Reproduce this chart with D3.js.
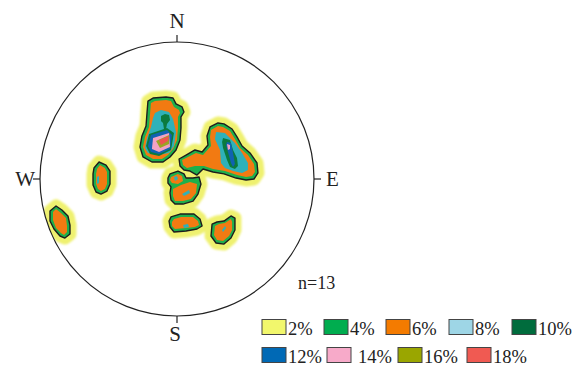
<!DOCTYPE html>
<html><head><meta charset="utf-8">
<script src="https://cdn.jsdelivr.net/npm/d3@7"></script>
<style>body{margin:0;background:#fff} svg{display:block}</style>
</head><body>
<svg id="chart" width="576" height="365"></svg>
<script>
// Pole density contours on an equal-area net.
// Ring vertices are net coordinates in % of the primitive radius (x = east, y = north).

const ring4 = [
  [[-21.2,56.9],[-17.5,59.1],[-8.0,59.9],[-2.9,59.1],[-0.7,54.8],[3.7,52.6],[5.1,48.9],[2.9,45.3],[2.9,37.2],[2.2,28.5],[-0.7,21.2],[-5.1,16.1],[-10.2,12.4],[-18.3,12.4],[-24.8,16.1],[-27.0,23.4],[-25.6,31.4],[-22.6,38.7],[-21.9,48.2]],
  [[24.1,38.0],[29.9,40.9],[34.3,40.2],[40.2,36.5],[43.8,30.7],[47.5,24.1],[53.3,19.0],[58.4,11.7],[59.1,4.4],[56.2,0],[50.4,-0.7],[43.1,0.7],[34.3,3.7],[26.3,5.1],[19.0,7.3],[14.6,2.9],[9.5,5.8],[5.1,6.6],[2.2,9.5],[1.5,14.6],[6.6,17.5],[13.1,21.2],[18.3,19.7],[22.6,24.8],[21.9,31.4]],
  [[-6.6,0.7],[-5.1,3.7],[0.7,5.8],[5.1,3.7],[6.6,0.7],[11.7,0.7],[16.1,1.5],[17.5,-3.7],[15.3,-11.0],[11.7,-16.1],[4.4,-18.3],[-1.5,-18.3],[-4.4,-15.3],[-5.1,-10.2],[-4.4,-5.8],[-6.6,-2.9]],
  [[-4.4,-27.7],[2.2,-25.6],[12.4,-25.6],[16.8,-29.2],[18.3,-34.3],[14.6,-36.5],[6.6,-38.0],[-2.2,-38.7],[-5.1,-35.0],[-5.8,-30.7]],
  [[25.6,-32.9],[29.2,-31.4],[34.3,-30.7],[39.4,-27.0],[42.3,-28.5],[42.3,-37.2],[39.4,-43.1],[34.3,-47.5],[28.5,-46.7],[24.8,-41.6]],
  [[-60.6,8.0],[-56.9,12.4],[-51.8,10.2],[-48.9,5.8],[-48.9,-3.7],[-51.1,-8.8],[-55.5,-11.0],[-59.1,-9.5],[-61.3,-4.4],[-61.3,3.7]],
  [[-92.7,-23.4],[-88.3,-19.7],[-84.0,-22.6],[-79.6,-27.0],[-78.1,-33.6],[-78.1,-40.2],[-81.8,-43.1],[-85.4,-41.6],[-89.8,-36.5],[-92.7,-30.7]]
];

const ring6 = [
  [[-19.0,55.5],[-16.1,56.9],[-8.0,57.7],[-4.4,56.9],[-2.2,52.6],[1.5,50.4],[2.2,48.2],[0.7,45.3],[0.7,37.2],[0,28.5],[-2.9,21.9],[-6.6,17.5],[-11.0,14.6],[-17.5,14.6],[-22.6,17.5],[-24.8,23.4],[-23.4,30.7],[-20.4,38.0],[-19.7,47.5]],
  [[24.8,35.8],[29.9,38.7],[33.6,38.0],[38.7,35.0],[42.3,29.2],[46.0,22.6],[51.8,17.5],[56.2,11.0],[56.9,5.1],[54.8,2.2],[50.4,1.5],[43.8,2.9],[35.0,5.8],[26.3,7.3],[19.7,9.5],[13.1,9.5],[7.3,8.0],[4.4,10.2],[3.7,13.9],[8.0,16.1],[13.9,19.0],[19.0,17.5],[24.8,24.1],[24.1,30.7]],
  [[-4.4,1.5],[0.7,3.7],[3.7,2.2],[4.4,-1.5],[0.7,-3.7],[-3.7,-2.9],[-5.1,-0.7]],
  [[-2.9,-7.3],[2.9,-4.4],[9.5,-2.2],[14.6,-3.7],[13.9,-10.2],[10.2,-14.6],[4.4,-16.1],[-1.5,-16.1],[-2.9,-12.4]],
  [[-2.2,-29.2],[2.9,-27.7],[11.7,-27.7],[15.3,-30.7],[16.1,-33.6],[13.1,-35.0],[6.6,-35.8],[-1.5,-36.5],[-3.7,-34.3],[-3.7,-31.4]],
  [[27.7,-34.3],[30.7,-32.9],[35.0,-32.1],[39.4,-29.2],[40.2,-31.4],[40.2,-37.2],[38.0,-41.6],[33.6,-45.3],[29.2,-44.5],[27.0,-40.9]],
  [[-58.4,7.3],[-56.2,10.2],[-52.6,8.0],[-51.1,5.1],[-51.1,-3.7],[-52.6,-7.3],[-55.5,-8.8],[-57.7,-7.3],[-59.1,-3.7],[-59.1,3.7]],
  [[-90.5,-24.1],[-88.3,-21.9],[-84.7,-24.8],[-81.0,-28.5],[-80.3,-34.3],[-80.3,-38.7],[-82.5,-40.9],[-84.7,-39.4],[-88.3,-35.8],[-90.5,-29.9]]
];

const ring8 = [
  [[-16.1,48.2],[-11.7,50.4],[-5.8,48.9],[-2.9,43.8],[-0.7,34.3],[-2.2,24.1],[-5.8,19.0],[-13.9,17.5],[-21.2,19.0],[-23.4,22.6],[-21.9,29.9],[-19.0,38.0],[-17.5,44.5]],
  [[28.5,34.3],[35.0,33.6],[42.3,26.3],[47.5,19.0],[51.8,11.7],[51.8,6.6],[47.5,4.4],[40.9,5.8],[35.0,8.0],[32.1,11.7],[31.4,21.2],[27.7,29.2]],
  [[-2.2,1.5],[0,2.2],[0.7,0],[-1.5,-1.5]],
  [[3.7,-11.0],[8.8,-8.0],[9.5,-10.2],[5.1,-12.4]],
  [[4.4,-33.6],[8.0,-32.9],[8.8,-35.0],[5.1,-35.8]],
  [[32.9,-37.2],[35.0,-34.3],[35.8,-35.8],[33.6,-38.7]],
  [[-58.4,1.5],[-56.9,2.2],[-56.9,-2.9],[-58.4,-3.7]]
];

const ring10 = [
  [[-11.7,46.0],[-8.8,47.5],[-5.8,46.7],[-5.1,43.1],[-7.3,40.2],[-8.0,36.5],[-9.5,36.5],[-10.2,40.9],[-11.7,42.3]],
  [[-20.4,32.9],[-7.3,37.2],[-2.2,33.6],[-4.4,21.2],[-13.1,16.8],[-19.7,18.3],[-22.6,24.1]],
  [[33.6,29.9],[38.7,28.5],[40.9,21.2],[43.8,15.3],[44.5,9.5],[42.3,7.3],[38.7,8.8],[36.5,13.9],[33.6,22.6],[32.9,27.0]]
];

const ring12 = [
  [[-19.0,32.1],[-7.3,35.8],[-3.7,32.1],[-5.1,21.9],[-13.1,18.3],[-19.0,19.7],[-21.2,24.1]],
  [[36.5,27.0],[39.4,26.3],[40.9,19.0],[42.3,11.0],[40.9,8.8],[39.4,11.7],[37.2,19.7],[35.8,24.8]]
];

const ring14 = [
  [[-17.5,29.9],[-5.8,33.6],[-5.1,23.4],[-13.1,19.7],[-18.3,21.9]],
  [[36.5,25.6],[38.7,24.8],[38.7,21.9],[37.2,21.2]]
];

const ring16 = [
  [[-15.3,27.7],[-5.8,32.1],[-5.8,25.6],[-12.4,22.6]]
];

const ring18 = [
  [[-13.1,28.5],[-5.8,31.4],[-6.6,27.7],[-11.7,24.8]]
];

const levelLabels = ["2%", "4%", "6%", "8%", "10%", "12%", "14%", "16%", "18%"];
const legendColors = ["#f2f76c", "#00ad4f", "#f47b00", "#9ed6e6", "#006c3d", "#0069b5", "#f7aac9", "#9aa600", "#f05a52"];
const poleCount = 13;

const svg = d3.select("#chart");
const cx = 177, cy = 179, R = 137;
const x = d3.scaleLinear().domain([-100, 100]).range([cx - R, cx + R]);
const y = d3.scaleLinear().domain([-100, 100]).range([cy + R, cy - R]);
const ringPath = d3.line().x(d => x(d[0])).y(d => y(d[1])).curve(d3.curveLinearClosed);

const defs = svg.append("defs");
defs.append("filter").attr("id", "soft").attr("x", "-20%").attr("y", "-20%").attr("width", "140%").attr("height", "140%")
  .append("feGaussianBlur").attr("stdDeviation", 0.9);
defs.append("clipPath").attr("id", "net").append("circle").attr("cx", cx).attr("cy", cy).attr("r", R);

const plot = svg.append("g").attr("clip-path", "url(#net)");

// 2% zone: a band around the 4% contour
plot.append("g").attr("filter", "url(#soft)")
  .selectAll("path").data(ring4).join("path")
  .attr("d", ringPath)
  .attr("fill", "#eff170").attr("stroke", "#eff170")
  .attr("stroke-width", 13).attr("stroke-linejoin", "round");

const plotColors = ["#eff170", "#1eb04c", "#f27a12", "#2fb1b9", "#0b7a3e", "#1062b2", "#f2a2c4", "#9aa424", "#ee5450"];
const filled = [ring4, ring6, ring8, ring10, ring12, ring14, ring16, ring18];
filled.forEach((rings, i) => {
  plot.append("g").selectAll("path").data(rings).join("path")
    .attr("d", ringPath)
    .attr("fill", plotColors[i + 1]);
});

// 4% contour line
plot.append("g").selectAll("path").data(ring4).join("path")
  .attr("d", ringPath)
  .attr("fill", "none").attr("stroke", "#1d1d1d").attr("stroke-width", 1.4)
  .attr("stroke-linejoin", "round");

// primitive circle and compass ticks
svg.append("circle").attr("cx", cx).attr("cy", cy).attr("r", R)
  .attr("fill", "none").attr("stroke", "#222").attr("stroke-width", 1.2);

const compass = [
  {label: "N", ang: 0}, {label: "E", ang: 90}, {label: "S", ang: 180}, {label: "W", ang: 270}
];
const tickLen = 7;
compass.forEach(c => {
  const a = c.ang * Math.PI / 180;
  const sx = Math.sin(a), sy = -Math.cos(a);
  svg.append("line")
    .attr("x1", cx + sx * R).attr("y1", cy + sy * R)
    .attr("x2", cx + sx * (R + tickLen)).attr("y2", cy + sy * (R + tickLen))
    .attr("stroke", "#222").attr("stroke-width", 1.2);
});

const dirFont = "'Liberation Serif', 'Times New Roman', serif";
svg.append("text").text("N").attr("x", cx).attr("y", cy - R - 14).attr("text-anchor", "middle");
svg.append("text").text("S").attr("x", cx - 2).attr("y", cy + R + 25).attr("text-anchor", "middle");
svg.append("text").text("W").attr("x", cx - R - 5).attr("y", cy + 7).attr("text-anchor", "end");
svg.append("text").text("E").attr("x", cx + R + 12).attr("y", cy + 7).attr("text-anchor", "start");
svg.selectAll("text").attr("font-family", dirFont).attr("font-size", 21).attr("fill", "#222");

svg.append("text").text("n=" + poleCount)
  .attr("x", 298).attr("y", 289)
  .attr("font-family", dirFont).attr("font-size", 18).attr("fill", "#222");

// legend
const legendRows = [
  {y: 319.5, xs: [262, 324, 386, 449, 512], items: [0, 1, 2, 3, 4]},
  {y: 347.5, xs: [262, 327, 398, 467], items: [5, 6, 7, 8]}
];
const legend = svg.append("g");
legendRows.forEach(row => {
  row.items.forEach((k, j) => {
    const bx = row.xs[j];
    legend.append("rect").attr("x", bx).attr("y", row.y).attr("width", 24).attr("height", 15)
      .attr("fill", legendColors[k]).attr("stroke", "#444").attr("stroke-width", 1);
    legend.append("text").text(levelLabels[k])
      .attr("x", bx + 26 + (k === 6 ? 5 : 0)).attr("y", row.y + 15)
      .attr("font-family", dirFont).attr("font-size", 18.5).attr("fill", "#222");
  });
});
</script>
</body></html>
